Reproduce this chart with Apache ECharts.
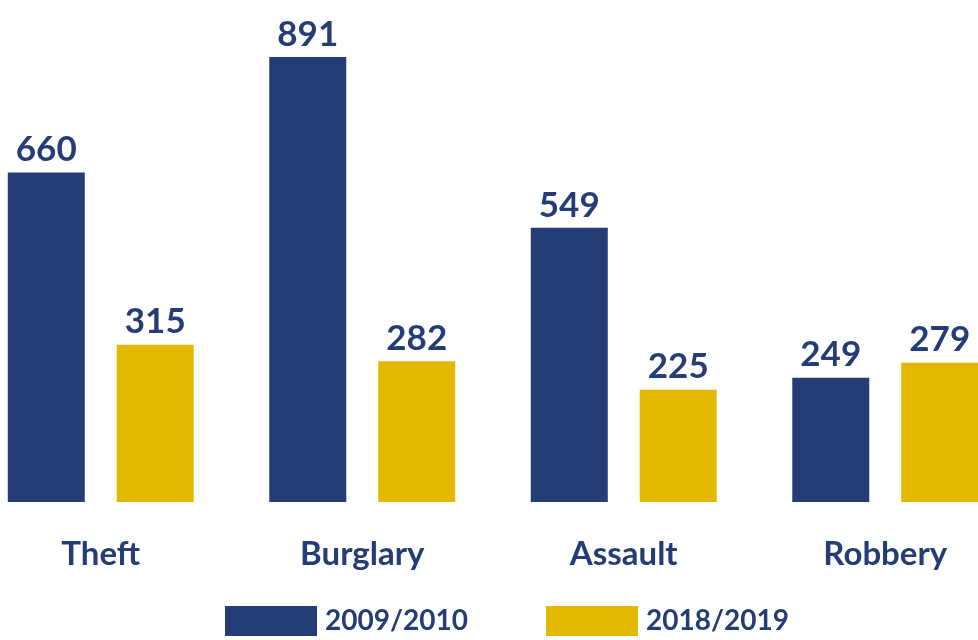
<!DOCTYPE html>
<html><head><meta charset="utf-8">
<script src="https://cdn.jsdelivr.net/npm/echarts@6/dist/echarts.min.js"></script>
<style>html,body{margin:0;padding:0;background:#fff}#c{width:978px;height:640px}</style>
</head><body><div id="c"></div>
<script>
const categories = ['Theft', 'Burglary', 'Assault', 'Robbery'];
const series2009 = [660, 891, 549, 249];
const series2018 = [315, 282, 225, 279];
const seriesNames = ['2009/2010', '2018/2019'];
const BLUE = '#253D76', GOLD = '#E2B900', FONT = 'Lato';
const chart = echarts.init(document.getElementById('c'));
const lbl = {show: true, position: 'top', distance: 5, color: BLUE, fontFamily: FONT, fontWeight: 'bold', fontSize: 35};
chart.setOption({
  animation: false,
  grid: {left: -30, right: -38, top: 2.6, bottom: 138, containLabel: false, outerBoundsMode: 'none'},
  legend: {left: 225, top: 606, padding: 0, itemWidth: 92, itemHeight: 30, itemGap: 78, icon: 'rect',
    textStyle: {color: BLUE, fontFamily: FONT, fontWeight: 'bold', fontSize: 28, padding: [4,0,0,3]},
    data: seriesNames},
  xAxis: {type: 'category', data: categories, axisLine: {show: false}, axisTick: {show: false},
    axisLabel: {color: BLUE, fontFamily: FONT, fontWeight: 'bold', fontSize: 33, margin: 36}},
  yAxis: {type: 'value', min: 0, max: 1000, show: false, splitLine: {show: false}},
  series: [
    {name: seriesNames[0], type: 'bar', data: series2009, itemStyle: {color: BLUE}, barWidth: 77, barGap: '41.5%', label: lbl},
    {name: seriesNames[1], type: 'bar', data: series2018, itemStyle: {color: GOLD}, barWidth: 77, label: lbl}
  ]
});
</script></body></html>
